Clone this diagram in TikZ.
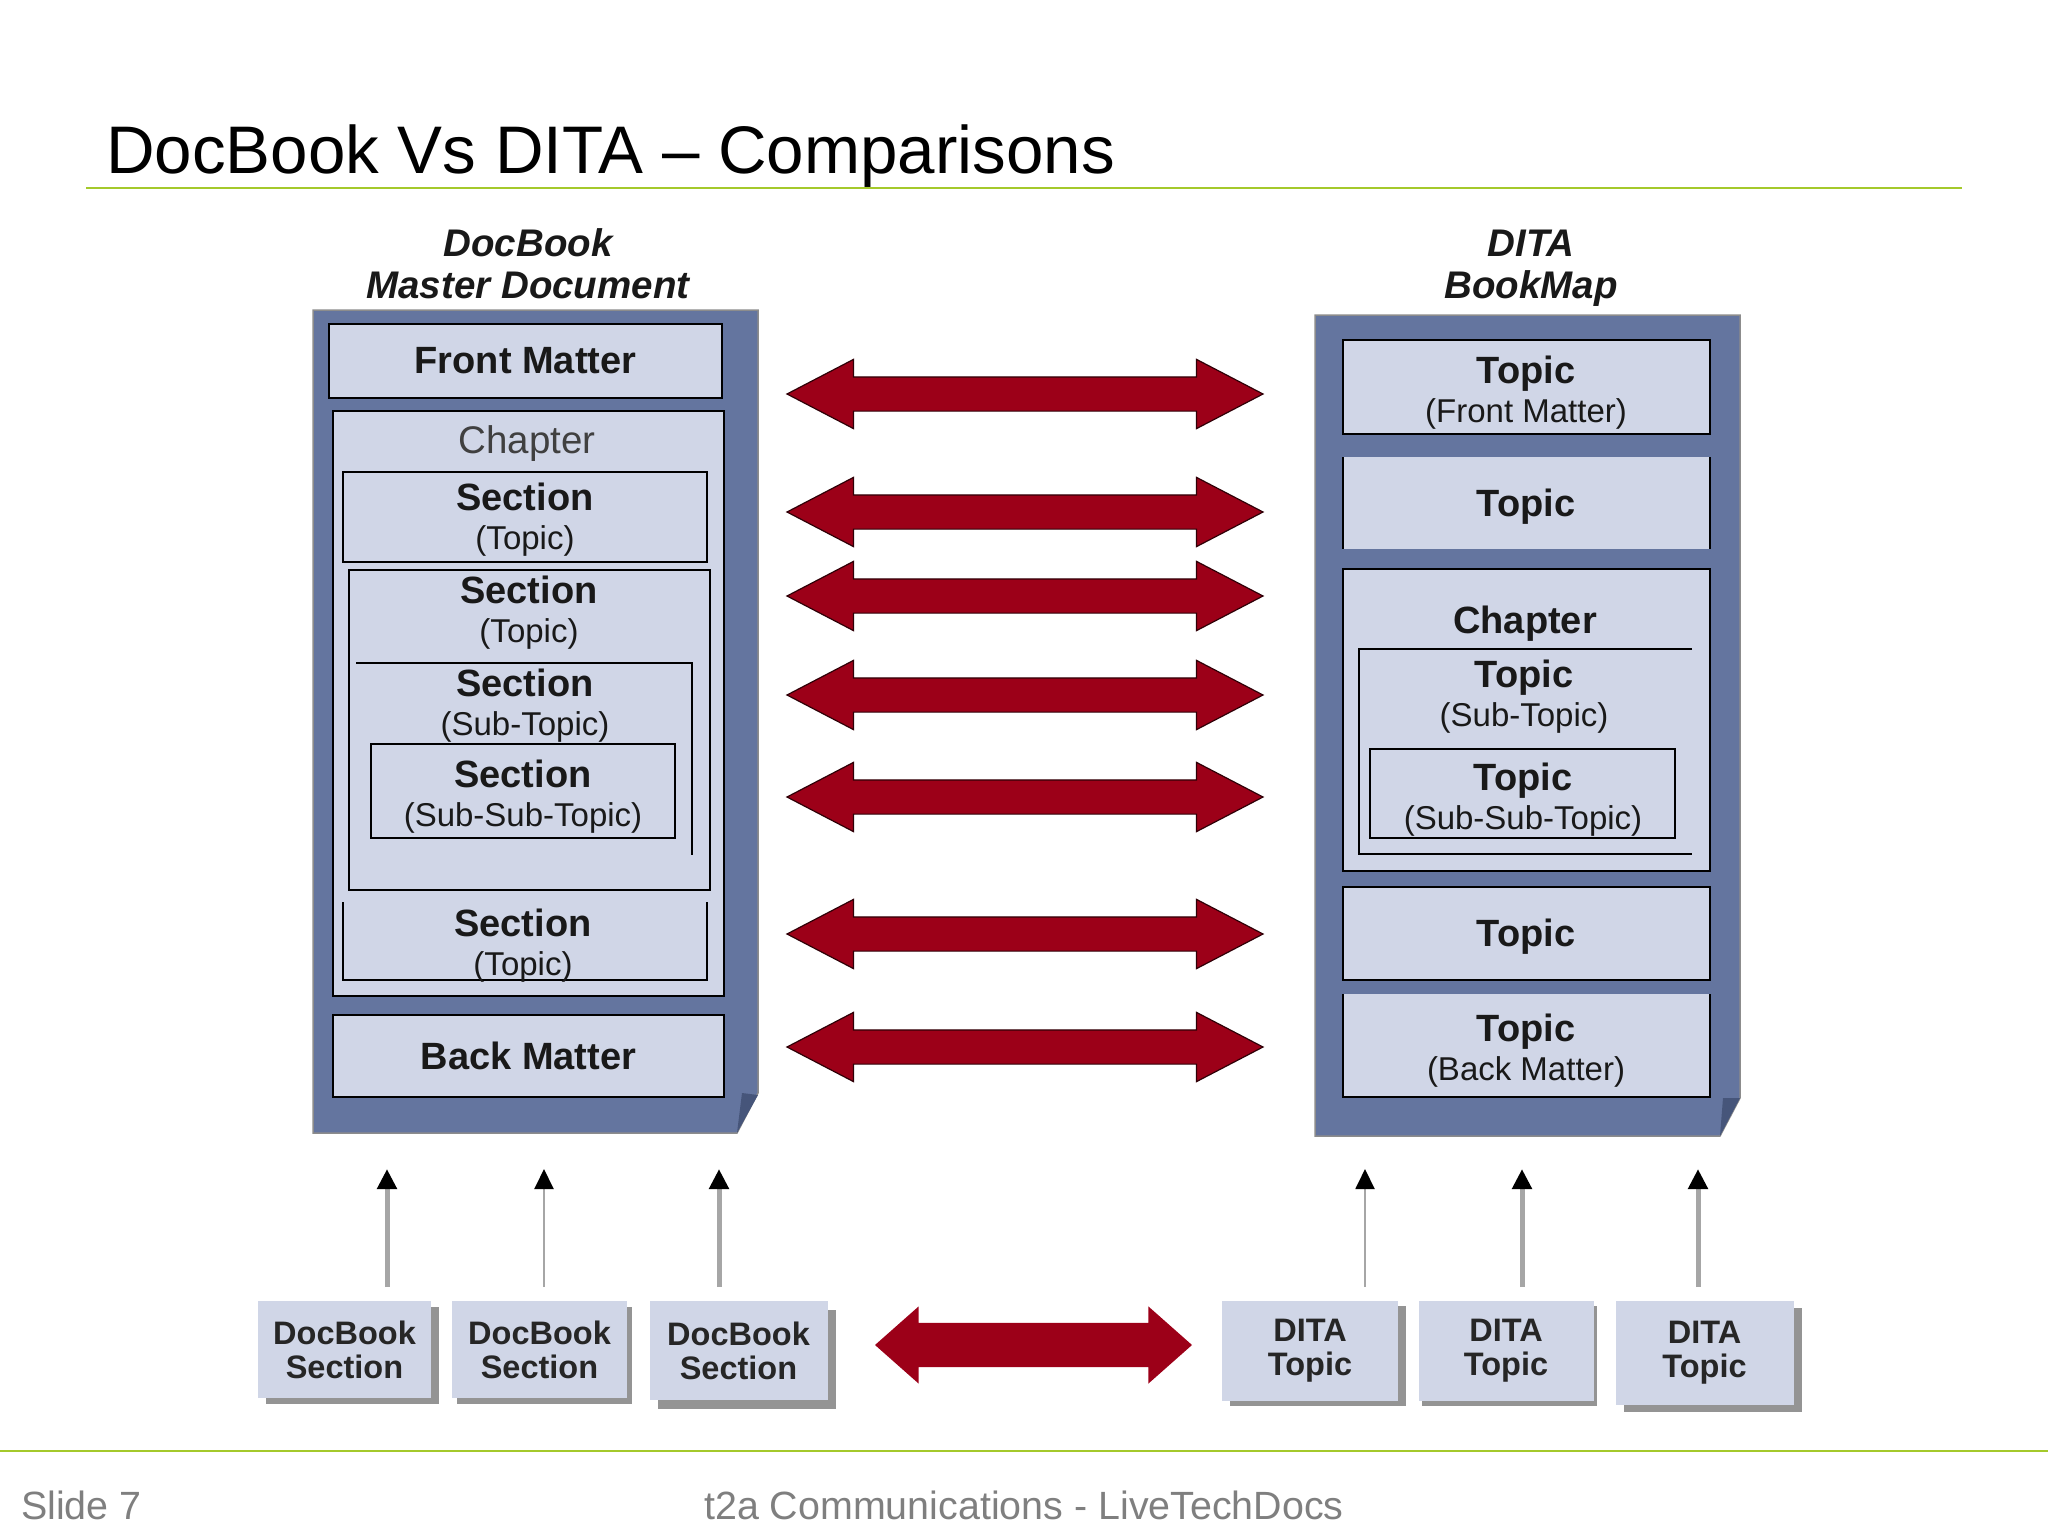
\documentclass[tikz,border=0pt]{standalone}
\usepackage{fontspec}
\setmainfont{Liberation Sans}
\usetikzlibrary{arrows.meta,shapes.arrows,shadows}

\definecolor{pageblue}{HTML}{64759F}
\definecolor{partblue}{HTML}{D0D6E7}
\definecolor{folddark}{HTML}{46557A}
\definecolor{linkred}{HTML}{9C0018}
\definecolor{rulegreen}{HTML}{A4C92B}
\definecolor{footgrey}{HTML}{7F7F7F}

\newcommand{\headfont}{\fontsize{38}{39}\selectfont\bfseries}
\newcommand{\sublabel}[1]{{\fontsize{33}{39}\mdseries\selectfont #1}}

\tikzstyle{part}=[rectangle, draw=black, line width=2.5pt, fill=partblue, inner sep=0pt, outer sep=0pt, align=center, font=\headfont, text=black!90]
\tikzstyle{openpart}=[part, draw=none]
\tikzstyle{word}=[inner sep=0pt, outer sep=0pt, align=center, font=\headfont, text=black!90]
\tikzstyle{caption}=[word, font=\fontsize{38.5}{42}\selectfont\bfseries\itshape]
\tikzstyle{link}=[double arrow, double arrow head extend=17.5pt, double arrow tip angle=55, minimum height=476pt, inner xsep=0pt, inner ysep=16.5pt, outer sep=0pt, fill=linkred, draw=black!70!linkred, line width=1.2pt]
\tikzstyle{tile}=[rectangle, fill=partblue, inner sep=0pt, outer sep=0pt, align=center, font=\fontsize{32.5}{34}\selectfont\bfseries, text=black!85]
\tikzstyle{foot}=[inner sep=0pt, outer sep=0pt, anchor=base, font=\fontsize{39.4}{40}\selectfont, text=footgrey]

\begin{document}
\begin{tikzpicture}[x=1pt, y=-1pt,
    up/.style = {-{Triangle[length=20pt, width=19pt, color=black]}, draw=black!35},
    shade/.style 2 args = {drop shadow={shadow xshift=#1pt, shadow yshift=-#2pt, fill=black!42, opacity=1}}]
    \useasboundingbox (0,0) rectangle (2048,1536);

    \node (title) [inner sep=0pt, anchor=base west, font=\fontsize{67.3}{70}\selectfont] at (106,173) {DocBook Vs DITA – Comparisons};
    \coordinate (ruleL) at (86,188);
    \coordinate (ruleR) at (1962,188);
    \draw[rulegreen, line width=2.5pt] (ruleL) -- (ruleR);

    \node (capL) [caption] at (528,264) {DocBook\\Master Document};
    \node (capR) [caption] at (1531,268) {DITA\\BookMap};

    \draw[fill=pageblue, draw=black!45, line width=1.5pt] (313,310) -- (758,310) -- (758,1093) -- (737,1133) -- (313,1133) -- cycle;
    \fill[folddark] (737,1133) -- (742,1093) -- (758,1095) -- cycle;

    \node (front) [part, minimum width=393, minimum height=74] at (525.5,361) {Front Matter};
    \node (chapL) [part, minimum width=391, minimum height=585] at (528.5,703.5) {};
    \node (chapLt) [word, font=\fontsize{38.5}{40}\selectfont, text=black!75] at (527,444) {Chapter};
    \node (secA) [part, line width=2pt, minimum width=364, minimum height=90] at (525,517) {};
    \node (secAt) [word] at (525,520) {Section\\\sublabel{(Topic)}};
    \node (secB) [part, minimum width=361, minimum height=320] at (529.5,730) {};
    \node (secBt) [word] at (529,613) {Section\\\sublabel{(Topic)}};
    \node (secC) [openpart, minimum width=336, minimum height=192] at (524,759) {};
    \draw[line width=2.5pt] (secC.north west) -- (secC.north east) -- (secC.south east);
    \node (secCt) [word] at (525,706) {Section\\\sublabel{(Sub-Topic)}};
    \node (secD) [part, minimum width=304, minimum height=94] at (523,791) {};
    \node (secDt) [word] at (523,797) {Section\\\sublabel{(Sub-Sub-Topic)}};
    \node (secE) [openpart, minimum width=364, minimum height=78] at (525,941) {};
    \draw[line width=2pt] (secE.north west) -- (secE.south west) -- (secE.south east) -- (secE.north east);
    \node (secEt) [word] at (523,946) {Section\\\sublabel{(Topic)}};
    \node (back) [part, minimum width=391, minimum height=82] at (528.5,1056) {Back Matter};

    \draw[fill=pageblue, draw=black!45, line width=1.5pt] (1315,315) -- (1740,315) -- (1740,1098) -- (1720,1136) -- (1315,1136) -- cycle;
    \fill[folddark] (1720,1136) -- (1723,1098) -- (1740,1098) -- cycle;

    \node (topA) [part, minimum width=367, minimum height=94] at (1526.5,387) {};
    \node (topAt) [word] at (1526,393) {Topic\\\sublabel{(Front Matter)}};
    \node (topB) [openpart, minimum width=367, minimum height=92] at (1526.5,503) {};
    \draw[line width=2.5pt] (topB.north west) -- (topB.south west) (topB.north east) -- (topB.south east);
    \node (topBt) [word] at (1526,507) {Topic};
    \node (chapR) [part, minimum width=367, minimum height=302] at (1526.5,720) {};
    \node (chapRt) [word] at (1525,624) {Chapter};
    \node (topC) [openpart, minimum width=333, minimum height=205] at (1525.5,751.5) {};
    \draw[line width=2.5pt] (topC.north east) -- (topC.north west) -- (topC.south west) -- (topC.south east);
    \node (topCt) [word] at (1524,697) {Topic\\\sublabel{(Sub-Topic)}};
    \node (topD) [part, line width=2pt, minimum width=305, minimum height=89] at (1522.5,793.5) {};
    \node (topDt) [word] at (1523,800) {Topic\\\sublabel{(Sub-Sub-Topic)}};
    \node (topE) [part, minimum width=367, minimum height=93] at (1526.5,933.5) {};
    \node (topEt) [word] at (1526,937) {Topic};
    \node (topF) [openpart, minimum width=367, minimum height=103] at (1526.5,1045.5) {};
    \draw[line width=2.5pt] (topF.north west) -- (topF.south west) -- (topF.south east) -- (topF.north east);
    \node (topFt) [word] at (1526,1051) {Topic\\\sublabel{(Back Matter)}};

    \node (link1) [link] at (1025,394) {};
    \node (link2) [link] at (1025,512) {};
    \node (link3) [link] at (1025,596) {};
    \node (link4) [link] at (1025,695) {};
    \node (link5) [link] at (1025,797) {};
    \node (link6) [link] at (1025,934) {};
    \node (link7) [link] at (1025,1047) {};

    \node (tileA) [tile, shade={8}{6}, minimum width=173, minimum height=97] at (344.5,1349.5) {DocBook\\Section};
    \node (tileB) [tile, shade={5}{6}, minimum width=175, minimum height=97] at (539.5,1349.5) {DocBook\\Section};
    \node (tileC) [tile, shade={8}{9}, minimum width=178, minimum height=99] at (738.5,1350.5) {DocBook\\Section};
    \node (tileD) [tile, shade={8}{5}, minimum width=176, minimum height=100] at (1310,1351) {DITA\\Topic};
    \node (tileE) [tile, shade={3}{5}, minimum width=175, minimum height=100] at (1506,1351) {DITA\\Topic};
    \node (tileF) [tile, shade={8}{7}, minimum width=178, minimum height=104] at (1704.5,1353) {DITA\\Topic};

    \node (link8) [link, draw=none, inner ysep=21.5pt, double arrow head extend=16.5pt, double arrow tip angle=83, minimum height=317pt] at (1033.5,1345) {};

    \coordinate (inA) at (387,1169);
    \coordinate (inB) at (544,1169);
    \coordinate (inC) at (719,1169);
    \coordinate (inD) at (1365,1169);
    \coordinate (inE) at (1522,1169);
    \coordinate (inF) at (1698,1169);
    \coordinate (outA) at (387,1287);
    \coordinate (outB) at (544,1287);
    \coordinate (outC) at (719,1287);
    \coordinate (outD) at (1365,1287);
    \coordinate (outE) at (1522,1287);
    \coordinate (outF) at (1698,1287);
    \path
    (outA) edge [up, line width=5pt] (inA)
    (outB) edge [up, line width=2pt] (inB)
    (outC) edge [up, line width=5pt] (inC)
    (outD) edge [up, line width=2pt] (inD)
    (outE) edge [up, line width=5pt] (inE)
    (outF) edge [up, line width=5pt] (inF);

    \coordinate (footL) at (0,1451);
    \coordinate (footR) at (2048,1451);
    \draw[rulegreen, line width=2pt] (footL) -- (footR);
    \node (slide) [foot, anchor=base west] at (21,1519) {Slide 7};
    \node (maker) [foot] at (1024,1519) {t2a Communications - LiveTechDocs};
\end{tikzpicture}
\end{document}
